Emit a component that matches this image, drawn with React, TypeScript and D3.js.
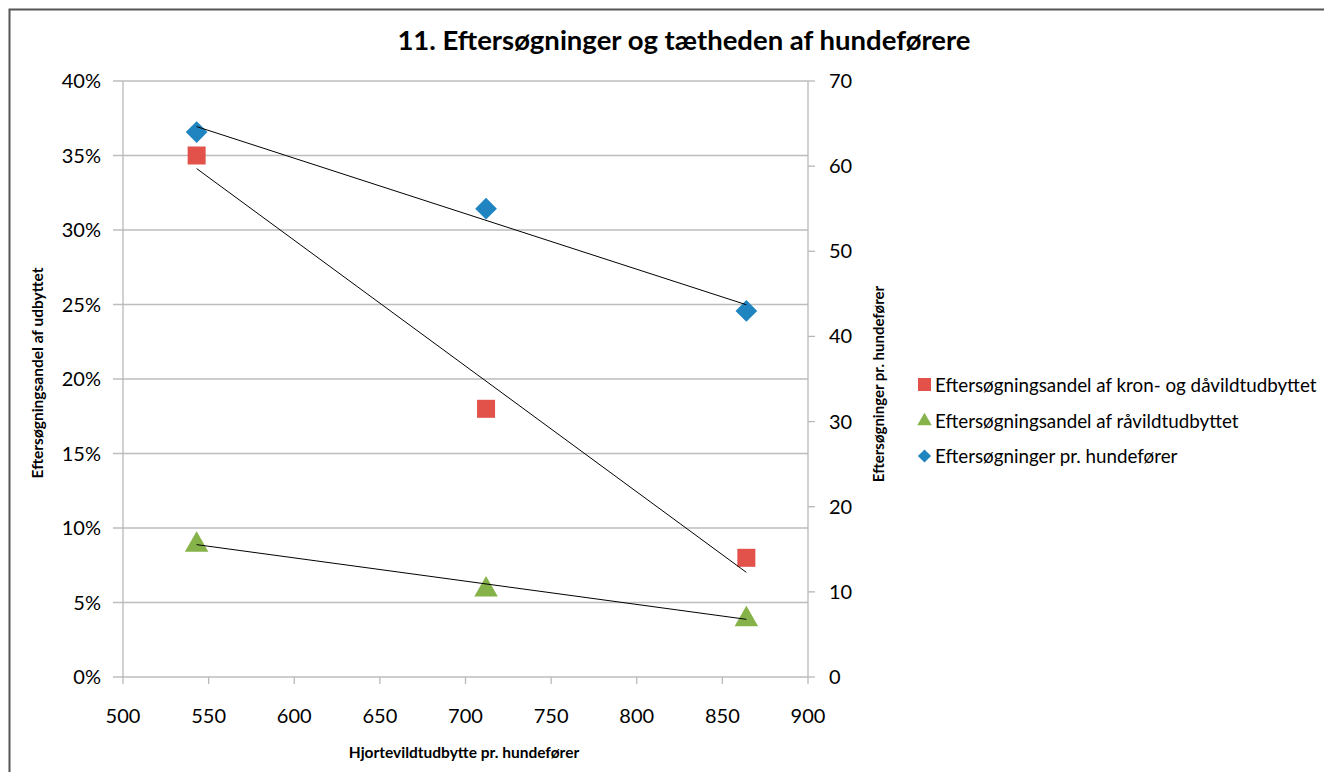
import React from "react";
import * as d3 from "d3";

const xValues = [543, 712, 864];
const kronShare = [35, 18, 8];
const raaShare = [9, 6, 4];
const perHandler = [64, 55, 43];
const leftTicks = [0, 5, 10, 15, 20, 25, 30, 35, 40];
const rightTicks = [0, 10, 20, 30, 40, 50, 60, 70];
const xTicks = [500, 550, 600, 650, 700, 750, 800, 850, 900];
const legendLabels = [
  "Eftersøgningsandel af kron- og dåvildtudbyttet",
  "Eftersøgningsandel af råvildtudbyttet",
  "Eftersøgninger pr. hundefører",
];

const RED = "#E2524A";
const GREEN = "#86B24A";
const BLUE = "#1F84C0";
const FONT = "Lato, 'Open Sans', sans-serif";

function regression(xs: number[], ys: number[]) {
  const mx = d3.mean(xs)!;
  const my = d3.mean(ys)!;
  let sxy = 0, sxx = 0;
  xs.forEach((x, i) => {
    sxy += (x - mx) * (ys[i] - my);
    sxx += (x - mx) * (x - mx);
  });
  const slope = sxy / sxx;
  return (x: number) => my + slope * (x - mx);
}

export default function App() {
  const W = 1324, H = 772;
  const x = d3.scaleLinear().domain([500, 900]).range([123, 808]);
  const yL = d3.scaleLinear().domain([0, 40]).range([677, 81]);
  const yR = d3.scaleLinear().domain([0, 70]).range([677, 81]);
  const xMin = d3.min(xValues)!, xMax = d3.max(xValues)!;

  const fK = regression(xValues, kronShare);
  const fR = regression(xValues, raaShare);
  const fP = regression(xValues, perHandler);

  const sq = 18;
  const diamond = d3.symbol().type(d3.symbolDiamond2).size(300);
  const tri = d3.symbol().type(d3.symbolTriangle).size(240);
  const diamondSm = d3.symbol().type(d3.symbolDiamond2).size(110);
  const triSm = d3.symbol().type(d3.symbolTriangle).size(90);

  const gridColor = "#BDBDBD";
  const axisColor = "#B8B8B8";

  return (
    <svg width={W} height={H} style={{ position: "absolute", left: 0, top: 0, background: "#FFFFFF" }}>
      <rect x={9.5} y={9.5} width={W + 20} height={H + 20} fill="#FFFFFF" stroke="#555" strokeWidth={2} />
      <text x={684} y={50} textAnchor="middle" fontFamily={FONT} fontWeight="bold" fontSize={27.5} fill="#000">
        11. Eftersøgninger og tætheden af hundeførere
      </text>

      {/* gridlines */}
      {leftTicks.map((t) => (
        <line key={"g" + t} x1={113} x2={808} y1={yL(t)} y2={yL(t)} stroke={gridColor} strokeWidth={1.3} />
      ))}
      {/* left axis */}
      <line x1={123} x2={123} y1={81} y2={677} stroke={axisColor} strokeWidth={1.3} />
      {leftTicks.map((t) => (
        <text key={"lt" + t} x={101} y={yL(t) + 7} textAnchor="end" fontFamily={FONT} fontSize={20} fill="#000">
          {t}%
        </text>
      ))}
      {/* right axis */}
      <line x1={808} x2={808} y1={81} y2={677} stroke={axisColor} strokeWidth={1.3} />
      {rightTicks.map((t) => (
        <g key={"rt" + t}>
          <line x1={808} x2={815} y1={yR(t)} y2={yR(t)} stroke={axisColor} strokeWidth={1.3} />
          <text x={829} y={yR(t) + 7} textAnchor="start" fontFamily={FONT} fontSize={20} fill="#000">
            {t}
          </text>
        </g>
      ))}
      {/* x axis */}
      {xTicks.map((t) => (
        <g key={"xt" + t}>
          <line x1={x(t)} x2={x(t)} y1={677} y2={684} stroke={axisColor} strokeWidth={1.3} />
          <text x={x(t)} y={723} textAnchor="middle" fontFamily={FONT} fontSize={20} fill="#000">
            {t}
          </text>
        </g>
      ))}

      {/* axis titles */}
      <text x={464} y={758} textAnchor="middle" fontFamily={FONT} fontWeight="bold" fontSize={15.5} fill="#000">
        Hjortevildtudbytte pr. hundefører
      </text>
      <text transform={`translate(43,373) rotate(-90)`} textAnchor="middle" fontFamily={FONT} fontWeight="bold" fontSize={15.5} fill="#000">
        Eftersøgningsandel af udbyttet
      </text>
      <text transform={`translate(884,384) rotate(-90)`} textAnchor="middle" fontFamily={FONT} fontWeight="bold" fontSize={15} fill="#000">
        Eftersøgninger pr. hundefører
      </text>

      {/* markers */}
      {xValues.map((v, i) => (
        <rect key={"r" + i} x={x(v) - sq / 2} y={yL(kronShare[i]) - sq / 2} width={sq} height={sq} fill={RED} />
      ))}
      {xValues.map((v, i) => (
        <path key={"t" + i} d={tri()!} transform={`translate(${x(v)},${yL(raaShare[i]) + 2})`} fill={GREEN} />
      ))}
      {xValues.map((v, i) => (
        <path key={"d" + i} d={diamond()!} transform={`translate(${x(v)},${yR(perHandler[i])})`} fill={BLUE} />
      ))}

      {/* trend lines */}
      <line x1={x(xMin)} y1={yL(fK(xMin))} x2={x(xMax)} y2={yL(fK(xMax))} stroke="#000" strokeWidth={1} />
      <line x1={x(xMin)} y1={yL(fR(xMin))} x2={x(xMax)} y2={yL(fR(xMax))} stroke="#000" strokeWidth={1} />
      <line x1={x(xMin)} y1={yR(fP(xMin))} x2={x(xMax)} y2={yR(fP(xMax))} stroke="#000" strokeWidth={1} />

      {/* legend */}
      <rect x={918} y={378} width={13} height={13} fill={RED} />
      <path d={triSm()!} transform="translate(924.5,421)" fill={GREEN} />
      <path d={diamondSm()!} transform="translate(924.5,456)" fill={BLUE} />
      {legendLabels.map((l, i) => (
        <text key={"lg" + i} x={935} y={[392, 428, 463][i]} fontFamily={FONT} fontSize={18.8} fill="#000">
          {l}
        </text>
      ))}
    </svg>
  );
}
